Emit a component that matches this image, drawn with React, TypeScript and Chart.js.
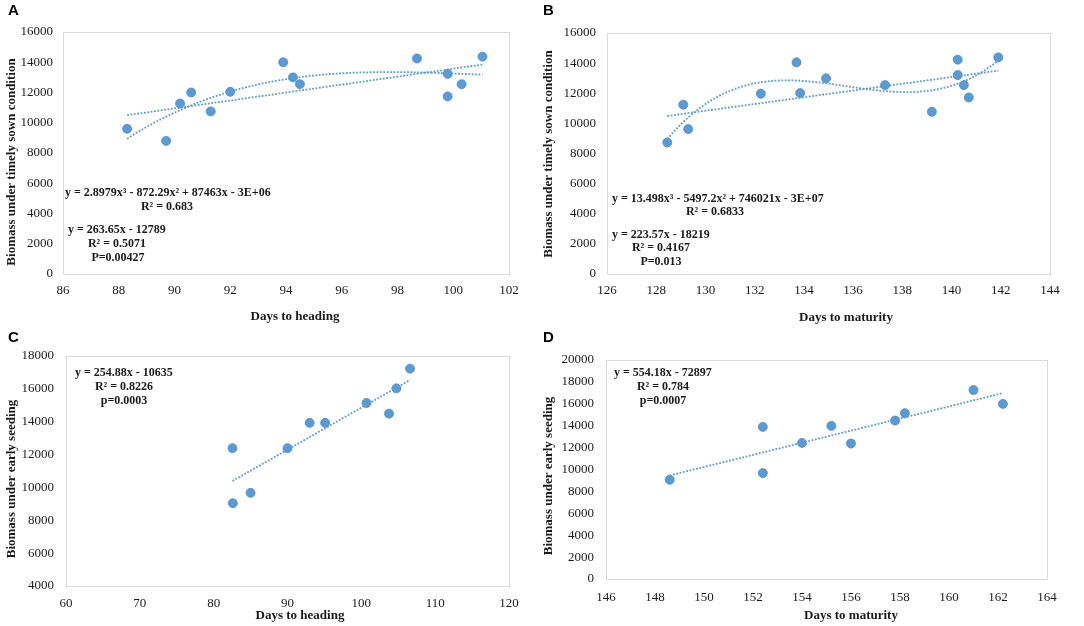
import React, { useEffect, useRef } from "react";
import { Chart, registerables } from "chart.js";
Chart.register(...registerables);

// ---- Data ----
const headingA = [88.3, 89.7, 90.2, 90.6, 91.3, 92.0, 93.9, 94.25, 94.5, 98.7, 99.8, 99.8, 100.3, 101.05];
const biomassA = [9600, 8800, 11270, 12000, 10750, 12050, 14000, 13000, 12550, 14250, 13230, 11740, 12550, 14370];

const maturityB = [128.45, 129.1, 129.3, 132.25, 133.7, 133.85, 134.9, 137.3, 139.2, 140.25, 140.25, 140.5, 140.7, 141.9];
const biomassB = [8730, 11240, 9620, 11970, 14050, 12010, 12990, 12540, 10770, 14230, 13210, 12540, 11720, 14380];

const headingC = [82.55, 82.6, 85.0, 90.0, 93.0, 95.1, 100.7, 103.75, 104.75, 106.6];
const biomassC = [12390, 9040, 9670, 12390, 13930, 13930, 15140, 14490, 16030, 17230];

const maturityD = [148.6, 152.4, 152.4, 154.0, 155.2, 156.0, 157.8, 158.2, 161.0, 162.2];
const biomassD = [9060, 13890, 9670, 12430, 13980, 12370, 14470, 15140, 17260, 15990];

const xTicksA = { min: 86, max: 102, step: 2 };
const yTicksA = { min: 0, max: 16000, step: 2000 };
const xTicksB = { min: 126, max: 144, step: 2 };
const yTicksB = { min: 0, max: 16000, step: 2000 };
const xTicksC = { min: 60, max: 120, step: 10 };
const yTicksC = { min: 4000, max: 18000, step: 2000 };
const xTicksD = { min: 146, max: 164, step: 2 };
const yTicksD = { min: 0, max: 20000, step: 2000 };

const BLUE = "#5b9bd5";
const BLUE_EDGE = "#4a89c8";
const SERIF = "'Liberation Serif', 'Times New Roman', serif";
const SANS = "'Liberation Sans', Arial, sans-serif";

// least squares polynomial fit (centered x)
function polyFit(xs: number[], ys: number[], deg: number) {
  const n = xs.length;
  const mx = xs.reduce((a, b) => a + b, 0) / n;
  const m = deg + 1;
  const A: number[][] = Array.from({ length: m }, () => Array(m + 1).fill(0));
  for (let i = 0; i < n; i++) {
    const u = xs[i] - mx;
    const p: number[] = [];
    for (let k = 0; k <= 2 * deg; k++) p.push(Math.pow(u, k));
    for (let r = 0; r < m; r++) {
      for (let c = 0; c < m; c++) A[r][c] += p[r + c];
      A[r][m] += p[r] * ys[i];
    }
  }
  for (let col = 0; col < m; col++) {
    let piv = col;
    for (let r = col + 1; r < m; r++) if (Math.abs(A[r][col]) > Math.abs(A[piv][col])) piv = r;
    [A[col], A[piv]] = [A[piv], A[col]];
    for (let r = 0; r < m; r++) {
      if (r === col) continue;
      const f = A[r][col] / A[col][col];
      for (let c = col; c <= m; c++) A[r][c] -= f * A[col][c];
    }
  }
  const coef = A.map((row, i) => row[m] / row[i]);
  return (x: number) => coef.reduce((s, c, k) => s + c * Math.pow(x - mx, k), 0);
}

function trend(xs: number[], ys: number[], deg: number) {
  const f = polyFit(xs, ys, deg);
  const lo = Math.min(...xs);
  const hi = Math.max(...xs);
  const N = deg === 1 ? 2 : 80;
  const pts = [];
  for (let i = 0; i < N; i++) {
    const x = lo + ((hi - lo) * i) / (N - 1);
    pts.push({ x, y: f(x) });
  }
  return pts;
}

type TextItem = { t: string; x: number; y: number; font: string; align?: CanvasTextAlign; rot?: boolean; color?: string };

type Panel = {
  left: number; top: number; w: number; h: number;
  area: { left: number; right: number; top: number; bottom: number };
  xs: number[]; ys: number[];
  xt: { min: number; max: number; step: number };
  yt: { min: number; max: number; step: number };
  cubic: boolean;
  yPad: number; xPad: number;
  texts: TextItem[];
};

const EQ = `bold 12px ${SERIF}`;
const AX = `bold 13px ${SERIF}`;
const LET = `bold 15px ${SANS}`;

const panels: Panel[] = [
  {
    left: 0, top: 0, w: 540, h: 325,
    area: { left: 63, right: 509, top: 32, bottom: 274 },
    xs: headingA, ys: biomassA, xt: xTicksA, yt: yTicksA, cubic: true, yPad: 10, xPad: 9,
    texts: [
      { t: "A", x: 8, y: 11, font: LET, align: "left", color: "#000" },
      { t: "Days to heading", x: 295, y: 317, font: AX },
      { t: "Biomass under timely sown condition", x: 12, y: 162, font: AX, rot: true },
      { t: "y = 2.8979x³ - 872.29x² + 87463x - 3E+06", x: 65, y: 193, font: EQ, align: "left" },
      { t: "R² = 0.683", x: 167, y: 207, font: EQ },
      { t: "y = 263.65x - 12789", x: 68, y: 230, font: EQ, align: "left" },
      { t: "R² = 0.5071", x: 117, y: 244, font: EQ },
      { t: "P=0.00427", x: 118, y: 258, font: EQ },
    ],
  },
  {
    left: 540, top: 0, w: 544, h: 325,
    area: { left: 67, right: 510, top: 33, bottom: 274 },
    xs: maturityB, ys: biomassB, xt: xTicksB, yt: yTicksB, cubic: true, yPad: 11, xPad: 9,
    texts: [
      { t: "B", x: 3, y: 11, font: LET, align: "left", color: "#000" },
      { t: "Days to maturity", x: 306, y: 318, font: AX },
      { t: "Biomass under timely sown condition", x: 9, y: 154, font: AX, rot: true },
      { t: "y = 13.498x³ - 5497.2x² + 746021x - 3E+07", x: 72, y: 199, font: EQ, align: "left" },
      { t: "R² = 0.6833", x: 175, y: 212, font: EQ },
      { t: "y = 223.57x - 18219", x: 72, y: 235, font: EQ, align: "left" },
      { t: "R² = 0.4167", x: 121, y: 248, font: EQ },
      { t: "P=0.013", x: 121, y: 262, font: EQ },
    ],
  },
  {
    left: 0, top: 325, w: 540, h: 301,
    area: { left: 66, right: 509, top: 31, bottom: 261 },
    xs: headingC, ys: biomassC, xt: xTicksC, yt: yTicksC, cubic: false, yPad: 12, xPad: 10,
    texts: [
      { t: "C", x: 8, y: 13, font: LET, align: "left", color: "#000" },
      { t: "Days to heading", x: 300, y: 291, font: AX },
      { t: "Biomass under early seeding", x: 12, y: 154, font: AX, rot: true },
      { t: "y = 254.88x - 10635", x: 75, y: 48, font: EQ, align: "left" },
      { t: "R² = 0.8226", x: 124, y: 62, font: EQ },
      { t: "p=0.0003", x: 124, y: 76, font: EQ },
    ],
  },
  {
    left: 540, top: 325, w: 544, h: 301,
    area: { left: 66, right: 507, top: 35, bottom: 254 },
    xs: maturityD, ys: biomassD, xt: xTicksD, yt: yTicksD, cubic: false, yPad: 12, xPad: 11,
    texts: [
      { t: "D", x: 3, y: 13, font: LET, align: "left", color: "#000" },
      { t: "Days to maturity", x: 311, y: 291, font: AX },
      { t: "Biomass under early seeding", x: 9, y: 151, font: AX, rot: true },
      { t: "y = 554.18x - 72897", x: 74, y: 48, font: EQ, align: "left" },
      { t: "R² = 0.784", x: 123, y: 62, font: EQ },
      { t: "p=0.0007", x: 123, y: 76, font: EQ },
    ],
  },
];

function PanelChart({ p }: { p: Panel }) {
  const ref = useRef<HTMLCanvasElement | null>(null);
  useEffect(() => {
    if (!ref.current) return;
    const lineStyle = {
      type: "line",
      borderColor: BLUE,
      borderWidth: 1.8,
      borderDash: [1.8, 1.6],
      pointRadius: 0,
      fill: false,
      tension: 0,
      order: 0,
    };
    const datasets: any[] = [
      {
        type: "scatter",
        data: p.xs.map((x, i) => ({ x, y: p.ys[i] })),
        backgroundColor: BLUE,
        borderColor: BLUE_EDGE,
        pointRadius: 4.5,
        pointBorderWidth: 0.8,
        order: 1,
      },
      { ...lineStyle, data: trend(p.xs, p.ys, 1) },
    ];
    if (p.cubic) {
      datasets.push({ ...lineStyle, data: trend(p.xs, p.ys, 3) });
    }
    const textPlugin = {
      id: "panelText",
      beforeDatasetsDraw(chart: any) {
        const { ctx, chartArea: a } = chart;
        ctx.save();
        ctx.strokeStyle = "#d9d9d9";
        ctx.lineWidth = 1;
        ctx.strokeRect(Math.round(a.left) + 0.5, Math.round(a.top) + 0.5, Math.round(a.right - a.left), Math.round(a.bottom - a.top));
        ctx.restore();
      },
      afterDraw(chart: any) {
        const ctx = chart.ctx as CanvasRenderingContext2D;
        for (const t of p.texts) {
          ctx.save();
          ctx.font = t.font;
          ctx.fillStyle = t.color || "#1a1a1a";
          ctx.textAlign = t.align || "center";
          ctx.textBaseline = "middle";
          if (t.rot) {
            ctx.translate(t.x, t.y);
            ctx.rotate(-Math.PI / 2);
            ctx.fillText(t.t, 0, 0);
          } else {
            ctx.fillText(t.t, t.x, t.y);
          }
          ctx.restore();
        }
      },
    };
    const chart = new Chart(ref.current, {
      type: "scatter",
      data: { datasets },
      options: {
        responsive: false,
        animation: false,
        devicePixelRatio: 1,
        layout: { padding: { top: p.area.top, right: p.w - p.area.right, left: 0, bottom: 0 } },
        plugins: { legend: { display: false }, tooltip: { enabled: false } },
        scales: {
          x: {
            type: "linear",
            min: p.xt.min,
            max: p.xt.max,
            grid: { display: false, drawTicks: false },
            border: { display: false },
            ticks: {
              stepSize: p.xt.step,
              padding: p.xPad,
              font: { family: SERIF, size: 13 },
              color: "#1a1a1a",
              maxRotation: 0,
              autoSkip: false,
              callback: (v: any) => String(v),
            },
            afterFit: (s: any) => { s.height = p.h - p.area.bottom; },
          },
          y: {
            type: "linear",
            min: p.yt.min,
            max: p.yt.max,
            grid: { display: false, drawTicks: false },
            border: { display: false },
            ticks: {
              stepSize: p.yt.step,
              padding: p.yPad,
              font: { family: SERIF, size: 13 },
              color: "#1a1a1a",
              autoSkip: false,
              callback: (v: any) => String(v),
            },
            afterFit: (s: any) => { s.width = p.area.left; },
          },
        },
      } as any,
      plugins: [textPlugin],
    });
    return () => chart.destroy();
  }, [p]);
  return (
    <canvas
      ref={ref}
      width={p.w}
      height={p.h}
      style={{ position: "absolute", left: p.left, top: p.top, width: p.w, height: p.h }}
    />
  );
}

export default function App() {
  return (
    <div style={{ position: "absolute", left: 0, top: 0, width: 1084, height: 626, background: "#fff" }}>
      {panels.map((p, i) => (
        <PanelChart key={i} p={p} />
      ))}
    </div>
  );
}
